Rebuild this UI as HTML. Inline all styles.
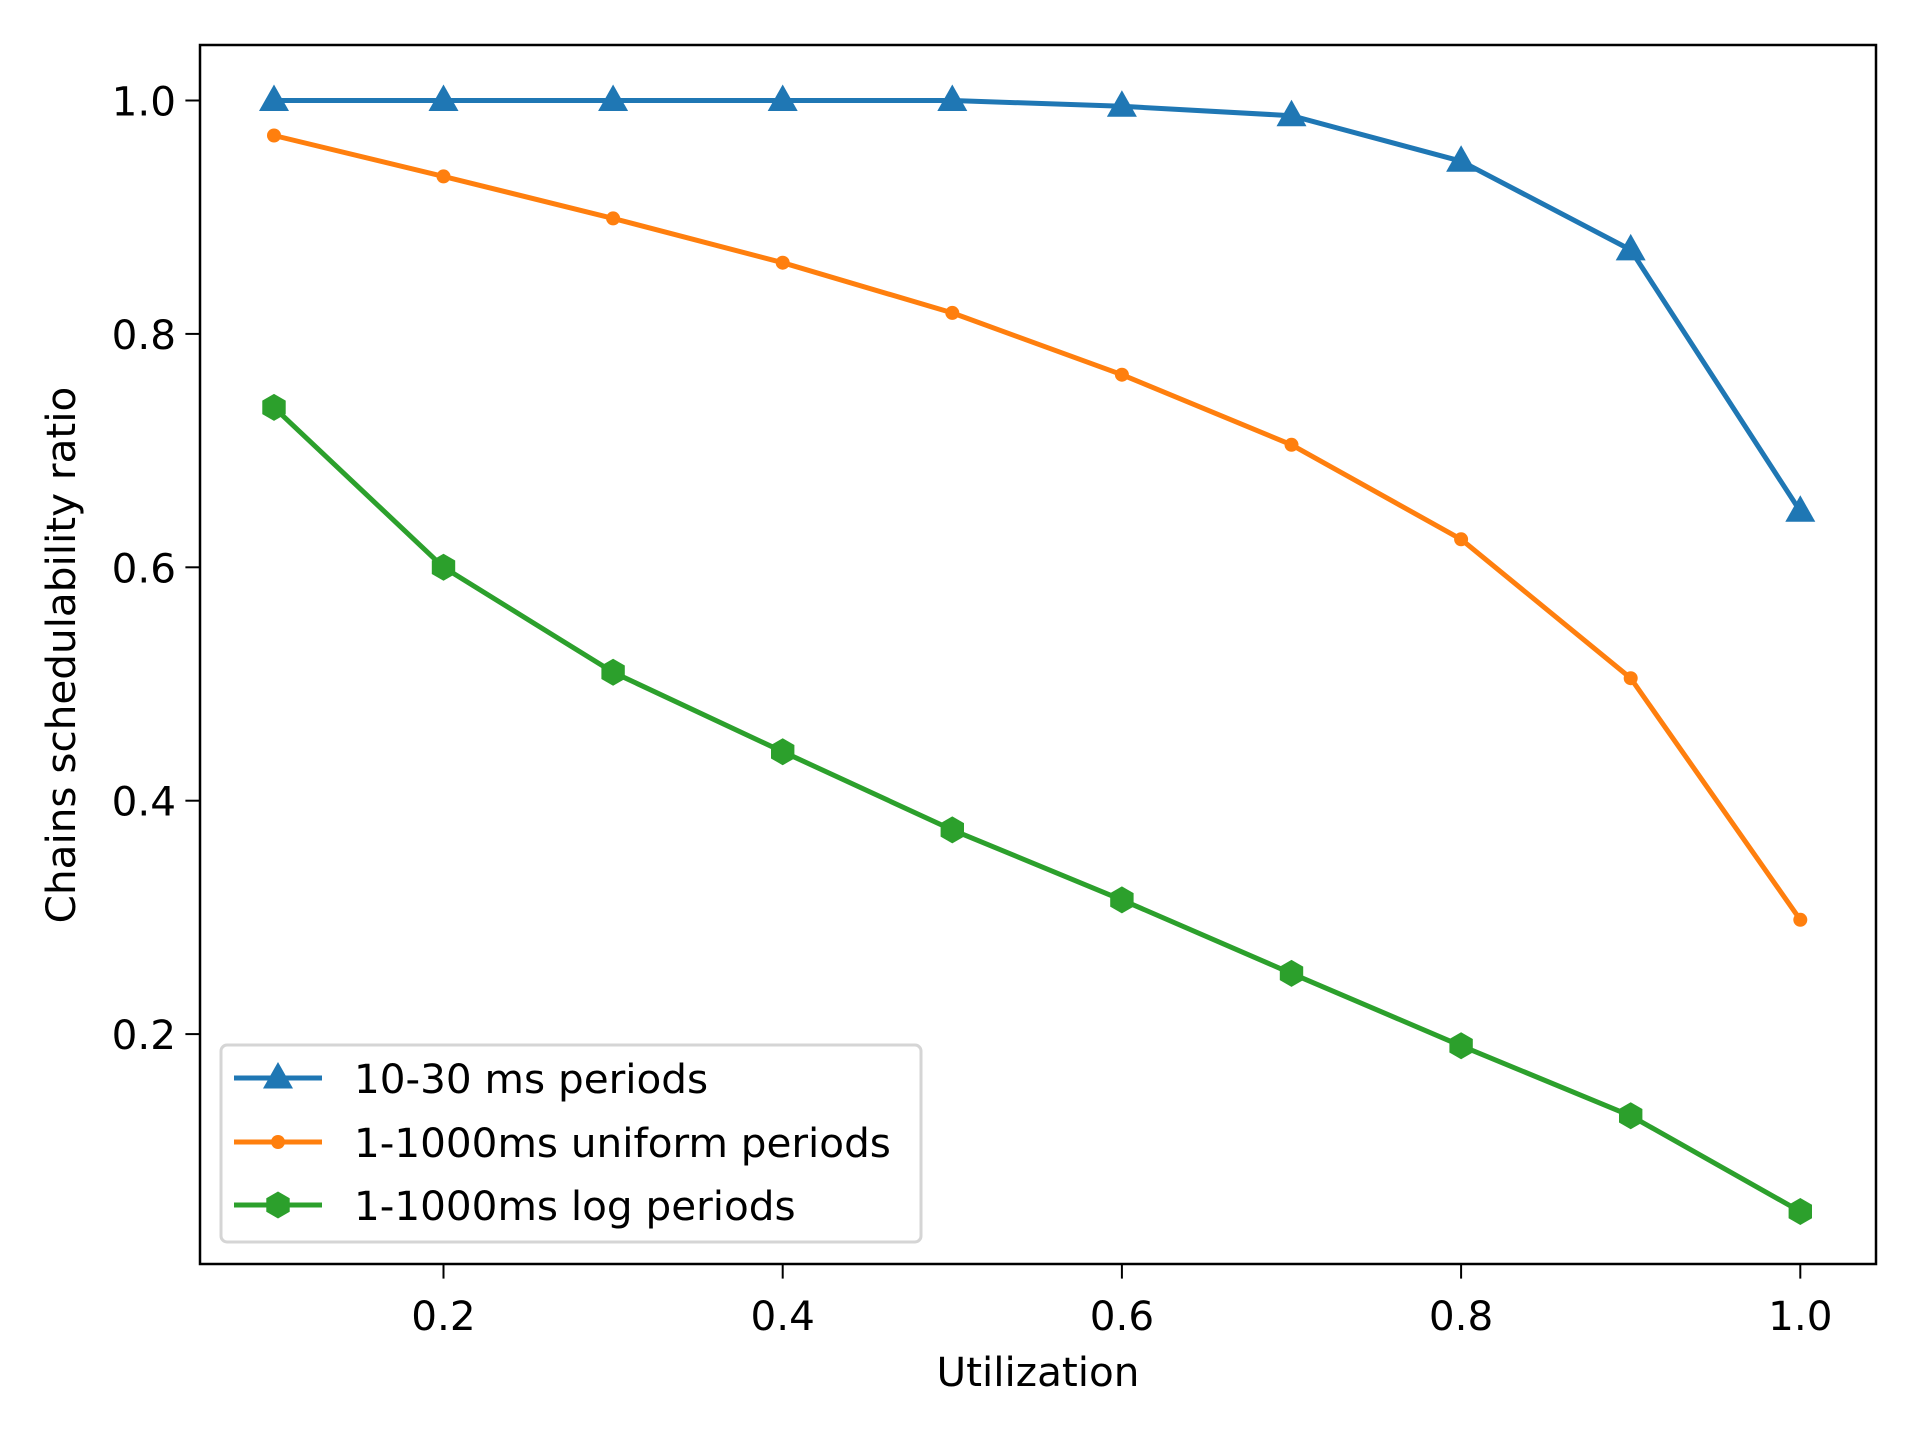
<!DOCTYPE html>
<html><head><style>body{margin:0;background:#fff}svg{display:block}text{font-family:"DejaVu Sans","Liberation Sans",sans-serif;font-size:40.5px;fill:#000}</style></head>
<body>
<svg width="1920" height="1440" viewBox="0 0 1920 1440">
<defs>
<path id="tri" d="M0,-16 L15,10.5 L-15,10.5Z"/>
<path id="hex" d="M0,-13.5 L11.7,-6.75 L11.7,6.75 L0,13.5 L-11.7,6.75 L-11.7,-6.75Z"/>
</defs>
<rect width="1920" height="1440" fill="#fff"/>
<g stroke="#000" stroke-width="2">
<line x1="443.5" y1="1264" x2="443.5" y2="1278.6"/><line x1="782.7" y1="1264" x2="782.7" y2="1278.6"/><line x1="1121.9" y1="1264" x2="1121.9" y2="1278.6"/><line x1="1461.1" y1="1264" x2="1461.1" y2="1278.6"/><line x1="1800.3" y1="1264" x2="1800.3" y2="1278.6"/>
<line x1="200" y1="100.5" x2="185.4" y2="100.5"/><line x1="200" y1="333.9" x2="185.4" y2="333.9"/><line x1="200" y1="567.3" x2="185.4" y2="567.3"/><line x1="200" y1="800.7" x2="185.4" y2="800.7"/><line x1="200" y1="1034.1" x2="185.4" y2="1034.1"/>
</g>
<g text-anchor="middle">
<text x="443.5" y="1330">0.2</text><text x="782.7" y="1330">0.4</text><text x="1121.9" y="1330">0.6</text><text x="1461.1" y="1330">0.8</text><text x="1800.3" y="1330">1.0</text>
<text x="1038" y="1386">Utilization</text>
</g>
<g text-anchor="end">
<text x="176" y="115.5">1.0</text><text x="176" y="348.9">0.8</text><text x="176" y="582.3">0.6</text><text x="176" y="815.7">0.4</text><text x="176" y="1049.1">0.2</text>
</g>
<text transform="translate(75,655) rotate(-90)" text-anchor="middle">Chains schedulability ratio</text>
<g fill="none" stroke-width="5" stroke-linejoin="round">
<polyline stroke="#1f77b4" points="274,100.5 443.5,100.5 613.1,100.5 782.7,100.5 952.3,100.5 1121.9,106.3 1291.5,115.7 1461.1,161.2 1630.7,249.9 1800.3,511.3"/>
<polyline stroke="#ff7f0e" points="274,135.5 443.5,176.4 613.1,218.4 782.7,262.7 952.3,312.9 1121.9,374.7 1291.5,444.8 1461.1,539.3 1630.7,678.2 1800.3,919.8"/>
<polyline stroke="#2ca02c" points="274,407.4 443.5,567.3 613.1,672.3 782.7,751.7 952.3,829.9 1121.9,899.9 1291.5,973.4 1461.1,1045.8 1630.7,1115.8 1800.3,1211.5"/>
</g>
<g fill="#1f77b4">
<use href="#tri" x="274" y="100.5"/><use href="#tri" x="443.5" y="100.5"/><use href="#tri" x="613.1" y="100.5"/><use href="#tri" x="782.7" y="100.5"/><use href="#tri" x="952.3" y="100.5"/><use href="#tri" x="1121.9" y="106.3"/><use href="#tri" x="1291.5" y="115.7"/><use href="#tri" x="1461.1" y="161.2"/><use href="#tri" x="1630.7" y="249.9"/><use href="#tri" x="1800.3" y="511.3"/>
</g>
<g fill="#ff7f0e">
<circle cx="274" cy="135.5" r="7"/><circle cx="443.5" cy="176.4" r="7"/><circle cx="613.1" cy="218.4" r="7"/><circle cx="782.7" cy="262.7" r="7"/><circle cx="952.3" cy="312.9" r="7"/><circle cx="1121.9" cy="374.7" r="7"/><circle cx="1291.5" cy="444.8" r="7"/><circle cx="1461.1" cy="539.3" r="7"/><circle cx="1630.7" cy="678.2" r="7"/><circle cx="1800.3" cy="919.8" r="7"/>
</g>
<g fill="#2ca02c">
<use href="#hex" x="274" y="407.4"/><use href="#hex" x="443.5" y="567.3"/><use href="#hex" x="613.1" y="672.3"/><use href="#hex" x="782.7" y="751.7"/><use href="#hex" x="952.3" y="829.9"/><use href="#hex" x="1121.9" y="899.9"/><use href="#hex" x="1291.5" y="973.4"/><use href="#hex" x="1461.1" y="1045.8"/><use href="#hex" x="1630.7" y="1115.8"/><use href="#hex" x="1800.3" y="1211.5"/>
</g>
<rect x="221" y="1045" width="700" height="197" rx="6" fill="#fff" fill-opacity="0.8" stroke="#d5d5d5" stroke-width="3"/>
<g stroke-width="5">
<line x1="234" y1="1078" x2="322" y2="1078" stroke="#1f77b4"/>
<line x1="234" y1="1142" x2="322" y2="1142" stroke="#ff7f0e"/>
<line x1="234" y1="1205" x2="322" y2="1205" stroke="#2ca02c"/>
</g>
<use href="#tri" x="278" y="1078" fill="#1f77b4"/>
<circle cx="278" cy="1142" r="7" fill="#ff7f0e"/>
<use href="#hex" x="278" y="1205" fill="#2ca02c"/>
<text x="354" y="1093">10-30 ms periods</text>
<text x="354" y="1157">1-1000ms uniform periods</text>
<text x="354" y="1220">1-1000ms log periods</text>
<rect x="200" y="45" width="1676" height="1219" fill="none" stroke="#000" stroke-width="2.5"/>
</svg>
</body></html>
